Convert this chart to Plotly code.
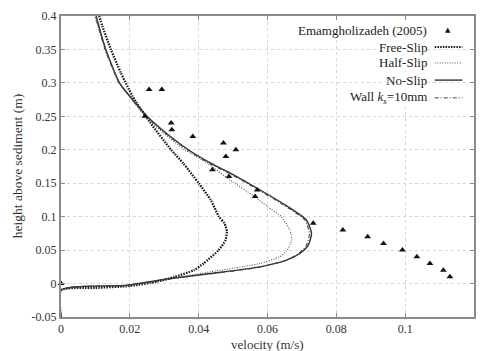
import plotly.graph_objects as go

# Measured data (Emamgholizadeh 2005)
meas_x = [0, 0.0256, 0.0293, 0.0244, 0.032, 0.0322, 0.0383, 0.0472, 0.0508, 0.0479, 0.044,
          0.0488, 0.057, 0.0564, 0.0733, 0.0819, 0.0891, 0.0937, 0.0992, 0.1034, 0.1072, 0.1111, 0.113]
meas_y = [0, 0.29, 0.29, 0.25, 0.24, 0.23, 0.22, 0.21, 0.20, 0.19, 0.17,
          0.16, 0.14, 0.13, 0.09, 0.08, 0.07, 0.06, 0.05, 0.04, 0.03, 0.02, 0.01]

free_x = [0, 0, 0.01, 0.02, 0.028, 0.033, 0.0386, 0.0414, 0.0458, 0.0478, 0.0482, 0.0475, 0.0459,
          0.0435, 0.040, 0.0355, 0.032, 0.026, 0.0208, 0.0174, 0.0145, 0.012, 0.0111]
free_y = [-0.05, -0.01, -0.0065, -0.0035, 0.003, 0.01, 0.02, 0.03, 0.05, 0.065, 0.078, 0.09, 0.1,
          0.125, 0.15, 0.18, 0.2, 0.24, 0.28, 0.315, 0.35, 0.385, 0.4]

half_x = [0, 0, 0.0193, 0.032, 0.0434, 0.0578, 0.0635, 0.0655, 0.067, 0.0665, 0.064, 0.060, 0.056,
          0.049, 0.0425, 0.036, 0.0298, 0.0245, 0.0198, 0.0168, 0.013, 0.0098]
half_y = [-0.05, -0.01, -0.0025, 0.0075, 0.0175, 0.03, 0.04, 0.048, 0.065, 0.08, 0.1, 0.115, 0.131,
          0.155, 0.18, 0.2, 0.225, 0.25, 0.28, 0.3, 0.35, 0.4]

noslip_x = [0, 0, 0.0193, 0.0318, 0.0434, 0.0578, 0.0655, 0.0694, 0.0718, 0.0728, 0.0713, 0.065, 0.057,
            0.050, 0.0435, 0.037, 0.0305, 0.025, 0.02, 0.017, 0.013, 0.0102]
noslip_y = [-0.05, -0.01, -0.0025, 0.0075, 0.015, 0.025, 0.035, 0.045, 0.057, 0.075, 0.095, 0.118, 0.1425,
            0.163, 0.18, 0.2, 0.225, 0.25, 0.28, 0.3, 0.35, 0.4]

wall_x = [0, 0, 0.0193, 0.0318, 0.0434, 0.0578, 0.0655, 0.069, 0.0713, 0.0722, 0.0708, 0.0645, 0.0565,
          0.0495, 0.043, 0.0367, 0.0302, 0.0248, 0.0199, 0.0169, 0.0128, 0.0100]
wall_y = [-0.05, -0.01, -0.0025, 0.007, 0.0145, 0.0245, 0.035, 0.045, 0.057, 0.075, 0.095, 0.118, 0.1425,
          0.163, 0.18, 0.2, 0.225, 0.25, 0.28, 0.3, 0.35, 0.4]

x_ticks = [0, 0.02, 0.04, 0.06, 0.08, 0.1, 0.12]
x_labels = ["0", "0.02", "0.04", "0.06", "0.08", "0.1", "0.12"]
y_ticks = [-0.05, 0, 0.05, 0.1, 0.15, 0.2, 0.25, 0.3, 0.35, 0.4]
y_labels = ["-0.05", "0", "0.05", "0.1", "0.15", "0.2", "0.25", "0.3", "0.35", "0.4"]

legend_names = ["Emamgholizadeh (2005)", "Free-Slip", "Half-Slip", "No-Slip", "Wall <i>k<sub>s</sub></i>=10mm"]

FONT = "Liberation Serif, Times New Roman, Times, serif"

fig = go.Figure()
fig.add_trace(go.Scatter(x=free_x, y=free_y, mode="lines", line=dict(color="#1a1a1a", width=2.3, dash="1.5px,1.2px",
                                                                      shape="spline", smoothing=0.6)))
fig.add_trace(go.Scatter(x=half_x, y=half_y, mode="lines", line=dict(color="#555", width=1.1, dash="1px,1.5px",
                                                                      shape="spline", smoothing=0.6)))
fig.add_trace(go.Scatter(x=noslip_x, y=noslip_y, mode="lines", line=dict(color="#333", width=1.4,
                                                                          shape="spline", smoothing=0.6)))
fig.add_trace(go.Scatter(x=wall_x, y=wall_y, mode="lines", line=dict(color="#444", width=1.1, dash="4px,2px,1px,2px",
                                                                      shape="spline", smoothing=0.6)))
fig.add_trace(go.Scatter(x=meas_x, y=meas_y, mode="markers", cliponaxis=False,
                         marker=dict(symbol="triangle-up", size=6, color="#111")))

# manual legend (text right-aligned, key on the right)
rows = [0.953, 0.897, 0.844, 0.787, 0.728]
for name, ry in zip(legend_names, rows):
    fig.add_annotation(xref="paper", yref="paper", x=0.888, y=ry, text=name, showarrow=False,
                       xanchor="right", yanchor="middle", font=dict(family=FONT, size=13, color="#222"),
                       bgcolor="white", borderpad=0)
fig.add_annotation(xref="paper", yref="paper", x=0.938, y=rows[0], text="▲", showarrow=False,
                   xanchor="center", yanchor="middle", font=dict(family="DejaVu Sans", size=7, color="#111"))
key_styles = [("#1a1a1a", 2.0, "1.5px,1.2px"), ("#555", 1.0, "1px,1.5px"), ("#333", 1.4, "solid"),
              ("#444", 1.0, "4px,2px,1px,2px")]
for (c, w, d), ry in zip(key_styles, rows[1:]):
    fig.add_shape(type="line", xref="paper", yref="paper", x0=0.905, x1=0.972, y0=ry, y1=ry,
                  line=dict(color=c, width=w, dash=d))

# axis titles
fig.add_annotation(xref="paper", yref="paper", x=0.5, y=-0.09, yanchor="middle", text="velocity (m/s)",
                   showarrow=False, font=dict(family=FONT, size=13, color="#333"))
fig.add_annotation(xref="paper", yref="paper", x=-0.105, y=0.5, xanchor="center", textangle=-90,
                   text="height above sediment (m)", showarrow=False,
                   font=dict(family=FONT, size=13.5, color="#333"))

axis_common = dict(showline=True, linecolor="#8a8a8a", linewidth=2, mirror="ticks", ticks="inside",
                   ticklen=4, tickcolor="#8a8a8a", showgrid=True, gridcolor="#d6d6d6", griddash="dot",
                   gridwidth=1, zeroline=False, automargin=False,
                   tickfont=dict(family=FONT, size=12, color="#333"))

fig.update_layout(
    width=482, height=351, margin=dict(l=61, r=8, t=16, b=34),
    paper_bgcolor="white", plot_bgcolor="white", showlegend=False,
    font=dict(family=FONT, color="#333"),
    xaxis=dict(range=[0, 0.12], tickvals=x_ticks, ticktext=x_labels, ticklabelstandoff=0, **axis_common),
    yaxis=dict(range=[-0.05, 0.4], tickvals=y_ticks, ticktext=y_labels, **axis_common),
)

fig.write_html("out.html", config={"displayModeBar": False},
               post_script="document.body.style.margin='0';document.body.style.overflow='hidden';")
